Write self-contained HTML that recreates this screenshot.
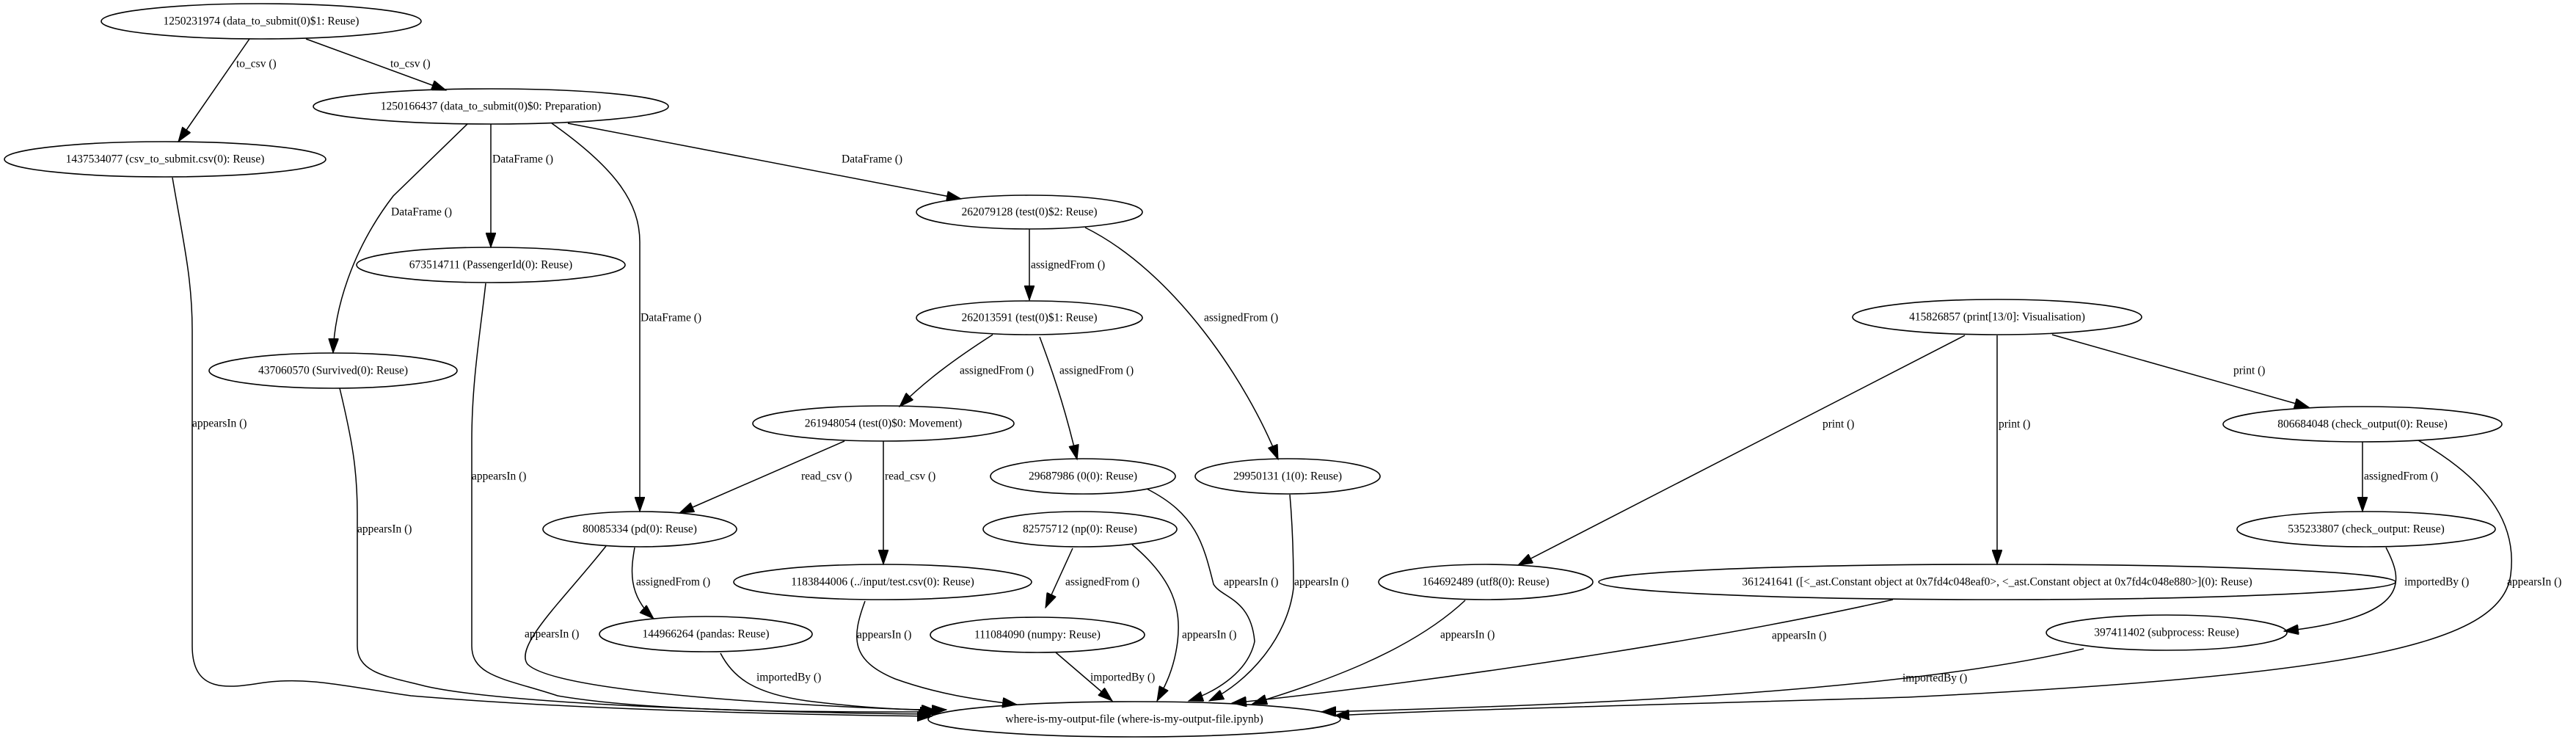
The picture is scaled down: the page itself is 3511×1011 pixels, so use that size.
<!DOCTYPE html>
<html><head><meta charset="utf-8"><style>
html,body{margin:0;padding:0;background:#fff;}
svg{display:block;}
text{font-family:"Liberation Serif",serif;font-size:15.5px;fill:#000;}
.n{text-anchor:middle;dominant-baseline:central;}
.l{text-anchor:start;dominant-baseline:central;}
ellipse{fill:none;stroke:#000;stroke-width:1.6;}
path{fill:none;stroke:#000;stroke-width:1.5;}
</style></head><body>
<svg width="3511" height="1011" viewBox="0 0 3511 1011">
<defs><marker id="a" markerUnits="userSpaceOnUse" markerWidth="22" markerHeight="14" refX="20" refY="7" orient="auto"><path d="M0,0 L20,7 L0,14 Z" style="fill:#000;stroke:#000;stroke-width:1"/></marker></defs>

<!-- nodes -->
<ellipse cx="356" cy="29" rx="218" ry="24"/><text class="n" x="356" y="29">1250231974 (data_to_submit(0)$1: Reuse)</text>
<ellipse cx="669" cy="145" rx="242" ry="24"/><text class="n" x="669" y="145">1250166437 (data_to_submit(0)$0: Preparation)</text>
<ellipse cx="225" cy="217" rx="219" ry="24"/><text class="n" x="225" y="217">1437534077 (csv_to_submit.csv(0): Reuse)</text>
<ellipse cx="669" cy="361" rx="183" ry="24"/><text class="n" x="669" y="361">673514711 (PassengerId(0): Reuse)</text>
<ellipse cx="454" cy="505" rx="169" ry="24"/><text class="n" x="454" y="505">437060570 (Survived(0): Reuse)</text>
<ellipse cx="872" cy="721" rx="132" ry="24"/><text class="n" x="872" y="721">80085334 (pd(0): Reuse)</text>
<ellipse cx="962" cy="864" rx="145" ry="24"/><text class="n" x="962" y="864">144966264 (pandas: Reuse)</text>
<ellipse cx="1204" cy="577" rx="178" ry="24"/><text class="n" x="1204" y="577">261948054 (test(0)$0: Movement)</text>
<ellipse cx="1403" cy="289" rx="154" ry="23"/><text class="n" x="1403" y="289">262079128 (test(0)$2: Reuse)</text>
<ellipse cx="1403" cy="433" rx="154" ry="23"/><text class="n" x="1403" y="433">262013591 (test(0)$1: Reuse)</text>
<ellipse cx="1476" cy="649" rx="126" ry="24"/><text class="n" x="1476" y="649">29687986 (0(0): Reuse)</text>
<ellipse cx="1755" cy="649" rx="126" ry="24"/><text class="n" x="1755" y="649">29950131 (1(0): Reuse)</text>
<ellipse cx="1472" cy="721" rx="132" ry="24"/><text class="n" x="1472" y="721">82575712 (np(0): Reuse)</text>
<ellipse cx="1203" cy="793" rx="203" ry="24"/><text class="n" x="1203" y="793">1183844006 (../input/test.csv(0): Reuse)</text>
<ellipse cx="1414" cy="865" rx="146" ry="24"/><text class="n" x="1414" y="865">111084090 (numpy: Reuse)</text>
<ellipse cx="1546" cy="980" rx="281" ry="24"/><text class="n" x="1546" y="980">where-is-my-output-file (where-is-my-output-file.ipynb)</text>
<ellipse cx="2025" cy="793" rx="146" ry="24"/><text class="n" x="2025" y="793">164692489 (utf8(0): Reuse)</text>
<ellipse cx="2722" cy="432" rx="197" ry="24"/><text class="n" x="2722" y="432">415826857 (print[13/0]: Visualisation)</text>
<ellipse cx="3220" cy="578" rx="190" ry="24"/><text class="n" x="3220" y="578">806684048 (check_output(0): Reuse)</text>
<ellipse cx="3225" cy="721" rx="176" ry="24"/><text class="n" x="3225" y="721">535233807 (check_output: Reuse)</text>
<ellipse cx="2722" cy="793" rx="543" ry="24"/><text class="n" x="2722" y="793">361241641 ([&lt;_ast.Constant object at 0x7fd4c048eaf0&gt;, &lt;_ast.Constant object at 0x7fd4c048e880&gt;](0): Reuse)</text>
<ellipse cx="2953" cy="862" rx="164" ry="24"/><text class="n" x="2953" y="862">397411402 (subprocess: Reuse)</text>

<!-- edges -->
<g marker-end="url(#a)">
<path d="M340,53 L243,193"/>
<path d="M417,53 L608,123"/>
<path d="M637,169 L536,267 C480,340 456,420 454,481"/>
<path d="M669,169 L669,337"/>
<path d="M752,168 C840,230 872,277 872,330 L872,697"/>
<path d="M774,168 L1310,271"/>
<path d="M235,242 C250,330 262,380 262,450 L262,880 C262,945 310,938 360,930 C420,922 470,935 560,948 C800,968 1100,974 1270,976"/>
<path d="M463,529 C480,600 487,640 487,700 L487,880 C487,918 530,922 580,935 C700,962 1100,972 1272,973"/>
<path d="M662,386 C655,450 643,520 643,600 L643,880 C643,922 690,925 760,948 C900,972 1150,970 1274,970"/>
<path d="M826,744 C770,815 700,880 719,905 C760,945 1100,962 1276,968"/>
<path d="M865,746 C860,775 855,810 891,843"/>
<path d="M982,890 C1000,925 1030,945 1100,955 C1180,965 1240,968 1290,967"/>
<path d="M1151,601 L926,699"/>
<path d="M1204,601 L1204,769"/>
<path d="M1179,819 C1160,870 1160,900 1220,925 C1290,950 1350,955 1386,960"/>
<path d="M1403,312 L1403,409"/>
<path d="M1479,310 C1600,370 1700,520 1742,626"/>
<path d="M1353,456 C1300,490 1260,520 1226,554"/>
<path d="M1417,459 C1440,520 1455,570 1468,626"/>
<path d="M1563,666 C1630,700 1640,740 1654,796 C1665,815 1705,815 1710,874 C1700,920 1650,945 1620,955"/>
<path d="M1758,674 C1762,720 1763,760 1763,801 C1755,870 1700,930 1648,955"/>
<path d="M1462,747 L1425,828"/>
<path d="M1543,742 C1600,790 1610,830 1605,874 C1600,915 1585,940 1577,955"/>
<path d="M1439,889 L1516,955"/>
<path d="M1997,818 C1920,890 1800,930 1707,959"/>
<path d="M2678,457 L2069,770"/>
<path d="M2722,457 L2722,769"/>
<path d="M2797,456 L3147,555"/>
<path d="M3220,602 L3220,697"/>
<path d="M3252,746 C3275,790 3290,840 3113,860"/>
<path d="M3296,600 C3400,660 3430,720 3422,783 C3410,880 3200,920 2600,950 C2200,962 1950,968 1819,975"/>
<path d="M2580,817 C2300,880 1900,935 1679,958"/>
<path d="M2840,884 C2600,940 2200,960 1801,970"/>
</g>

<!-- labels -->
<text class="l" x="322" y="87">to_csv ()</text>
<text class="l" x="532" y="87">to_csv ()</text>
<text class="l" x="533" y="289">DataFrame ()</text>
<text class="l" x="671" y="217">DataFrame ()</text>
<text class="l" x="873" y="433">DataFrame ()</text>
<text class="l" x="1147" y="217">DataFrame ()</text>
<text class="l" x="262" y="577">appearsIn ()</text>
<text class="l" x="487" y="721">appearsIn ()</text>
<text class="l" x="643" y="649">appearsIn ()</text>
<text class="l" x="715" y="864">appearsIn ()</text>
<text class="l" x="867" y="793">assignedFrom ()</text>
<text class="l" x="1031" y="923">importedBy ()</text>
<text class="l" x="1092" y="649">read_csv ()</text>
<text class="l" x="1206" y="649">read_csv ()</text>
<text class="l" x="1168" y="865">appearsIn ()</text>
<text class="l" x="1405" y="361">assignedFrom ()</text>
<text class="l" x="1641" y="433">assignedFrom ()</text>
<text class="l" x="1308" y="505">assignedFrom ()</text>
<text class="l" x="1444" y="505">assignedFrom ()</text>
<text class="l" x="1668" y="793">appearsIn ()</text>
<text class="l" x="1764" y="793">appearsIn ()</text>
<text class="l" x="1452" y="793">assignedFrom ()</text>
<text class="l" x="1611" y="865">appearsIn ()</text>
<text class="l" x="1486" y="923">importedBy ()</text>
<text class="l" x="1963" y="865">appearsIn ()</text>
<text class="l" x="2484" y="578">print ()</text>
<text class="l" x="2724" y="578">print ()</text>
<text class="l" x="3044" y="505">print ()</text>
<text class="l" x="3222" y="649">assignedFrom ()</text>
<text class="l" x="3277" y="793">importedBy ()</text>
<text class="l" x="3417" y="793">appearsIn ()</text>
<text class="l" x="2415" y="866">appearsIn ()</text>
<text class="l" x="2593" y="924">importedBy ()</text>
</svg>
</body></html>
